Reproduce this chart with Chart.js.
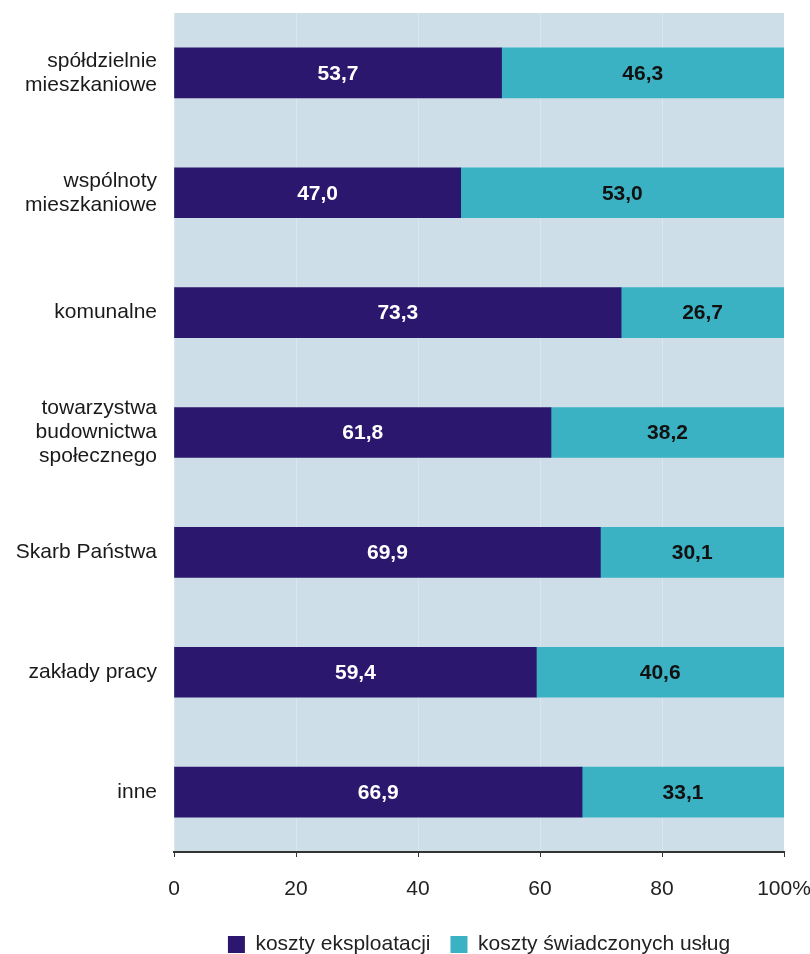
<!DOCTYPE html>
<html>
<head>
<meta charset="utf-8">
<script src="https://cdn.jsdelivr.net/npm/chart.js@4.4.1/dist/chart.umd.min.js"></script>
<style>
  html, body { margin: 0; padding: 0; background: #fff; }
  #wrap { width: 810px; height: 954px; position: relative; }
</style>
</head>
<body>
<div id="wrap"><canvas id="costChart"></canvas></div>
<script>
let categories = [
  ['spółdzielnie', 'mieszkaniowe'],
  ['wspólnoty', 'mieszkaniowe'],
  'komunalne',
  ['towarzystwa', 'budownictwa', 'społecznego'],
  'Skarb Państwa',
  'zakłady pracy',
  'inne'
];
let exploitation = [53.7, 47.0, 73.3, 61.8, 69.9, 59.4, 66.9];
let services = [46.3, 53.0, 26.7, 38.2, 30.1, 40.6, 33.1];
let seriesNames = ['koszty eksploatacji', 'koszty świadczonych usług'];
let xTicks = [0, 20, 40, 60, 80, 100];

let colors = ['#2b176e', '#3bb2c4'];
let fontFamily = "'Liberation Sans', Arial, sans-serif";

// light panel behind the bars
const plotBackground = {
  id: 'plotBackground',
  beforeDraw(chart) {
    const a = chart.chartArea;
    const ctx = chart.ctx;
    ctx.save();
    ctx.fillStyle = '#cddee8';
    ctx.fillRect(a.left, a.top, a.right - a.left, a.bottom - a.top);
    ctx.restore();
  }
};

// value written in the middle of each bar segment
const segmentLabels = {
  id: 'segmentLabels',
  afterDatasetsDraw(chart) {
    const ctx = chart.ctx;
    ctx.save();
    ctx.font = 'bold 21px ' + fontFamily;
    ctx.textAlign = 'center';
    ctx.textBaseline = 'middle';
    chart.data.datasets.forEach((ds, i) => {
      const meta = chart.getDatasetMeta(i);
      ctx.fillStyle = i === 0 ? '#ffffff' : '#111111';
      meta.data.forEach((bar, j) => {
        const txt = ds.data[j].toFixed(1).replace('.', ',');
        ctx.fillText(txt, (bar.x + bar.base) / 2, bar.y + 1);
      });
    });
    ctx.restore();
  }
};

let ctx = document.getElementById('costChart').getContext('2d');

let chart = new Chart(ctx, {
  type: 'bar',
  data: {
    labels: categories,
    datasets: [
      { label: seriesNames[0], data: exploitation, backgroundColor: colors[0], barThickness: 50 },
      { label: seriesNames[1], data: services, backgroundColor: colors[1], barThickness: 50 }
    ]
  },
  options: {
    indexAxis: 'y',
    responsive: true,
    maintainAspectRatio: false,
    animation: false,
    layout: { padding: { top: 13, bottom: -11, left: 0, right: 0 } },
    scales: {
      x: {
        stacked: true,
        min: 0,
        max: 100,
        afterBuildTicks(scale) {
          scale.ticks = xTicks.map(v => ({ value: v }));
        },
        afterFit(scale) {
          scale.height = 62;
          scale.paddingLeft = 0;
          scale.paddingRight = 26;
        },
        grid: {
          color: 'rgba(255,255,255,0.25)',
          tickColor: '#333',
          tickLength: 5,
          lineWidth: 1
        },
        border: { display: true, color: '#333', width: 2 },
        ticks: {
          padding: 20,
          color: '#222',
          font: { family: fontFamily, size: 21 },
          callback: v => v === 100 ? '100%' : String(v)
        }
      },
      y: {
        stacked: true,
        afterFit(scale) {
          scale.width = 174;
          scale.paddingTop = 0;
          scale.paddingBottom = 0;
        },
        grid: { display: false, drawTicks: false },
        border: { display: false },
        ticks: {
          padding: 17,
          color: '#1a1a1a',
          font: { family: fontFamily, size: 21, lineHeight: 1.15 }
        }
      }
    },
    plugins: {
      legend: {
        position: 'bottom',
        fullSize: false,
        labels: {
          boxWidth: 17,
          boxHeight: 17,
          padding: 20,
          color: '#222',
          font: { family: fontFamily, size: 21 }
        }
      },
      tooltip: { enabled: false }
    }
  },
  plugins: [plotBackground, segmentLabels]
});
</script>
</body>
</html>
